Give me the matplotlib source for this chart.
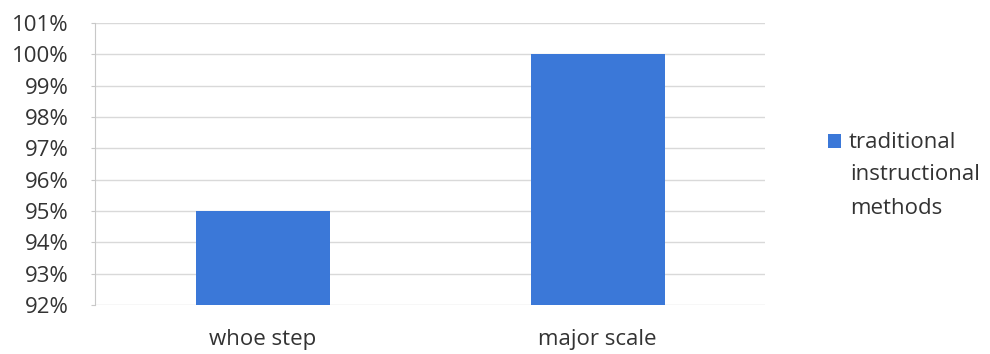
import matplotlib.pyplot as plt
from matplotlib.ticker import FuncFormatter

categories = ['whoe step', 'major scale']
values = [95, 100]
series_lines = ['traditional', 'instructional', 'methods']

plt.rcParams['font.family'] = ['Open Sans', 'DejaVu Sans']
fs = 16
txt = '#333333'

fig = plt.figure(figsize=(9.9, 3.54), dpi=100)
ax = fig.add_axes([0.096, 0.138, 0.677, 0.797])

x = range(len(categories))
ax.bar(x, [v - 92 for v in values], bottom=92, width=0.4, color='#3b78d8',
       label=series_lines[0], zorder=3)

ax.set_xlim(-0.5, 1.5)
ax.set_ylim(92, 101)
ax.set_yticks(range(92, 102))
ax.yaxis.set_major_formatter(FuncFormatter(lambda v, p: f'{int(v)}%'))
ax.set_xticks(list(x))
ax.set_xticklabels(categories)

ax.grid(axis='y', color='#d9d9d9', linewidth=1)
for s in ['top', 'right', 'bottom']:
    ax.spines[s].set_visible(False)
ax.spines['left'].set_color('#c8c8c8')
ax.tick_params(axis='y', length=3, color='#c8c8c8', labelsize=fs,
               labelcolor=txt, pad=16)
ax.tick_params(axis='x', length=0, labelsize=fs, labelcolor=txt, pad=17)

# legend: square next to the first line, the rest of the name below it
fig.legend(loc='center left', bbox_to_anchor=(828 / 990, 1 - 143 / 354),
           frameon=False, fontsize=fs, borderpad=0, borderaxespad=0,
           handlelength=0.59, handleheight=0.59, handletextpad=0.36,
           labelcolor=txt)
for i, line in enumerate(series_lines[1:]):
    fig.text(850 / 990, 1 - (175 + 33 * i) / 354, line, fontsize=fs,
             color=txt, va='center', ha='left')

fig.savefig('out.png', dpi=100, facecolor='white')
